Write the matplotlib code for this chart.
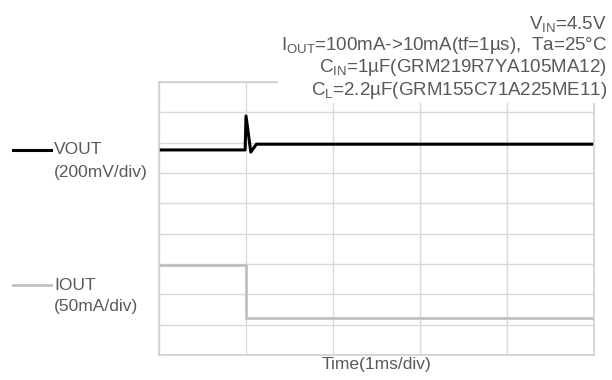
import numpy as np
import matplotlib.pyplot as plt
from matplotlib.lines import Line2D

plt.rcParams['font.family'] = ['Liberation Sans', 'DejaVu Sans']
plt.rcParams['mathtext.fontset'] = 'custom'
plt.rcParams['mathtext.rm'] = 'Liberation Sans'
plt.rcParams['mathtext.it'] = 'Liberation Sans'

# Werte in Skalenteilen (x: 1ms/div, y: 9 div gesamt)
t_vout = [0, 0.99, 1.0, 1.055, 1.12, 5]
vout = [6.76, 6.76, 7.88, 6.69, 6.95, 6.95]
t_iout = [0, 1.0, 1.0, 5]
iout = [2.97, 2.97, 1.22, 1.22]

bedingungen = ['V$_{\\mathrm{IN}}$=4.5V',
               'I$_{\\mathrm{OUT}}$=100mA->10mA(tf=1µs),  Ta=25°C',
               'C$_{\\mathrm{IN}}$=1µF(GRM219R7YA105MA12)',
               'C$_{\\mathrm{L}}$=2.2µF(GRM155C71A225ME11)']

W, H = 612, 380
txt = '#595959'
fs = 12.5

fig = plt.figure(figsize=(W/100, H/100), dpi=100)
ax = fig.add_axes([159/W, 1-355/H, 435/W, 273/H])
ax.set_xlim(0, 5)
ax.set_ylim(0, 9)
ax.set_xticks(np.arange(6))
ax.set_yticks(np.arange(10))
ax.grid(True, color='#d9d9d9', lw=1)
ax.tick_params(length=0, labelbottom=False, labelleft=False)
for s in ax.spines.values():
    s.set_color('#d0d0d0')
    s.set_linewidth(1.2)

ax.plot(t_iout, iout, color='#c0c0c0', lw=2)
ax.plot(t_vout, vout, color='black', lw=2.2)

# Messbedingungen oben rechts
fig.text(607/W, 1-14/H, '\n'.join(bedingungen), ha='right', va='top',
         multialignment='right', fontsize=13.5, color=txt, linespacing=1.08,
         bbox=dict(facecolor='white', edgecolor='none', pad=2))

# Legende links
fig.add_artist(Line2D([13/W, 51/W], [1-150/H, 1-150/H], color='black', lw=2.2,
                      transform=fig.transFigure))
fig.add_artist(Line2D([13/W, 51/W], [1-285/H, 1-285/H], color='#c0c0c0', lw=2,
                      transform=fig.transFigure))
fig.text(54/W, 1-150/H, 'VOUT', va='center', fontsize=fs, color=txt)
fig.text(54/W, 1-172/H, '(200mV/div)', va='center', fontsize=fs, color=txt)
fig.text(54/W, 1-285/H, 'IOUT', va='center', fontsize=fs, color=txt)
fig.text(54/W, 1-306/H, '(50mA/div)', va='center', fontsize=fs, color=txt)

fig.text(376/W, 1-364/H, 'Time(1ms/div)', ha='center', va='center', fontsize=fs, color=txt)

plt.savefig('out.png', dpi=100)
